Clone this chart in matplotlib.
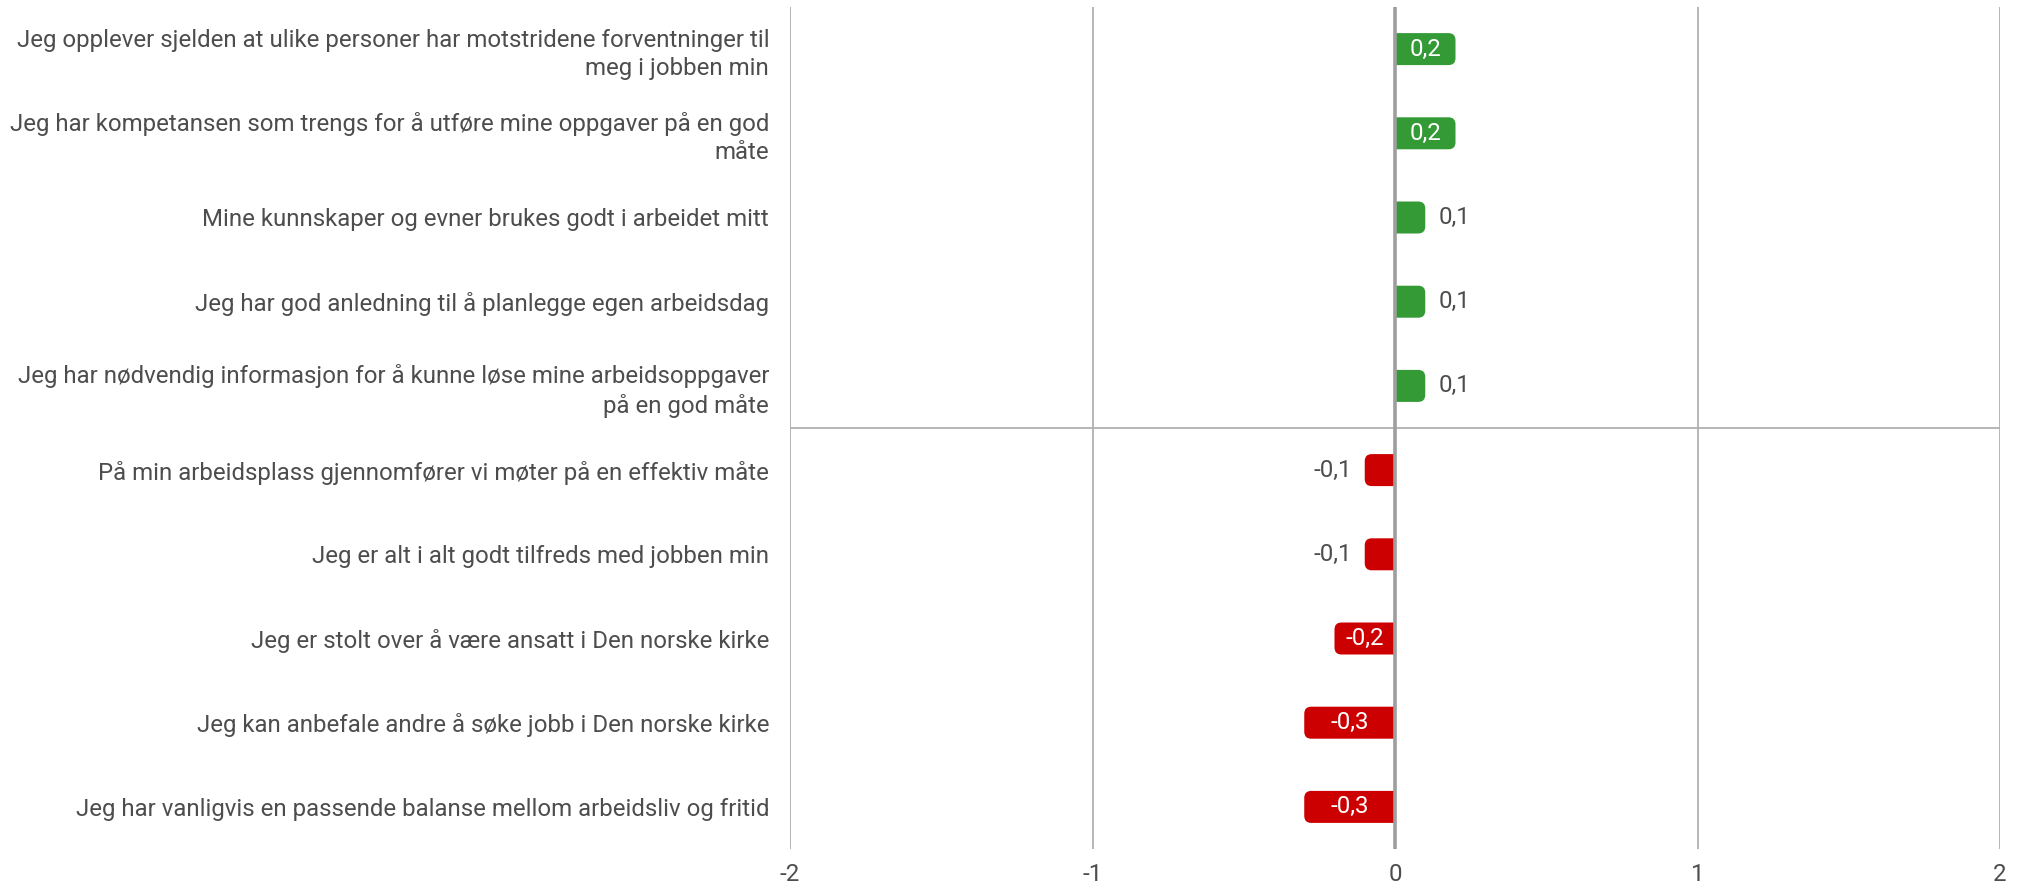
import matplotlib
matplotlib.use("Agg")
import matplotlib.pyplot as plt
from matplotlib.path import Path
from matplotlib.patches import PathPatch

plt.rcParams['font.family'] = ['Roboto', 'DejaVu Sans']

categories = [
    "Jeg opplever sjelden at ulike personer har motstridene forventninger til\nmeg i jobben min",
    "Jeg har kompetansen som trengs for å utføre mine oppgaver på en god\nmåte",
    "Mine kunnskaper og evner brukes godt i arbeidet mitt",
    "Jeg har god anledning til å planlegge egen arbeidsdag",
    "Jeg har nødvendig informasjon for å kunne løse mine arbeidsoppgaver\npå en god måte",
    "På min arbeidsplass gjennomfører vi møter på en effektiv måte",
    "Jeg er alt i alt godt tilfreds med jobben min",
    "Jeg er stolt over å være ansatt i Den norske kirke",
    "Jeg kan anbefale andre å søke jobb i Den norske kirke",
    "Jeg har vanligvis en passende balanse mellom arbeidsliv og fritid",
]
values = [0.2, 0.2, 0.1, 0.1, 0.1, -0.1, -0.1, -0.2, -0.3, -0.3]
value_labels = ["0,2", "0,2", "0,1", "0,1", "0,1", "-0,1", "-0,1", "-0,2", "-0,3", "-0,3"]
xticks = [-2, -1, 0, 1, 2]
xtick_labels = ["-2", "-1", "0", "1", "2"]

GREEN = "#339a35"
RED = "#cc0000"
TEXT = "#4d4d4d"
FS = 17.25

W, H = 2020, 886
fig = plt.figure(figsize=(W / 100, H / 100), dpi=100)
ax_l, ax_r, ax_t, ax_b = 790, 2000, 7, 849
ax = fig.add_axes([ax_l / W, 1 - ax_b / H, (ax_r - ax_l) / W, (ax_b - ax_t) / H])

n = len(categories)
ax.set_xlim(-2, 2)
ax.set_ylim(n - 0.5, -0.5)

# pixel to data conversions
xpp = 4.0 / (ax_r - ax_l)
ypp = n / (ax_b - ax_t)
radius_px = 7
rx = radius_px * xpp
ry = radius_px * ypp
bar_h = 0.38

# grid lines
for t in xticks:
    if t == 0:
        continue
    ax.axvline(t, color="#b0b0b0", lw=1.3, zorder=1)
ax.axhline(4.5, color="#b0b0b0", lw=1.3, zorder=1)

for i, v in enumerate(values):
    y0, y1 = i - bar_h / 2, i + bar_h / 2
    s = 1 if v > 0 else -1
    xe = v
    r = min(rx, abs(v))
    verts = [
        (0, y0),
        (xe - s * r, y0),
        (xe, y0), (xe, y0 + ry),
        (xe, y1 - ry),
        (xe, y1), (xe - s * r, y1),
        (0, y1),
        (0, y0),
    ]
    codes = [Path.MOVETO, Path.LINETO, Path.CURVE3, Path.CURVE3, Path.LINETO,
             Path.CURVE3, Path.CURVE3, Path.LINETO, Path.CLOSEPOLY]
    ax.add_patch(PathPatch(Path(verts, codes), facecolor=GREEN if v > 0 else RED,
                           edgecolor="none", zorder=2))
    if abs(v) >= 0.15:
        ax.text(v / 2, i, value_labels[i], ha="center", va="center",
                color="white", fontsize=FS, zorder=3)
    else:
        off = 13 * xpp
        ax.text(v + s * off, i, value_labels[i], ha="left" if v > 0 else "right",
                va="center", color=TEXT, fontsize=FS, zorder=3)

ax.axvline(0, color="#9e9e9e", lw=2.6, zorder=4)

ax.set_yticks(range(n))
ax.set_yticklabels(categories, fontsize=FS, color=TEXT, ha="right",
                   linespacing=1.28)
ax.set_xticks(xticks)
ax.set_xticklabels(xtick_labels, fontsize=FS, color=TEXT)
ax.tick_params(axis="both", length=0)
ax.tick_params(axis="y", pad=15)
ax.tick_params(axis="x", pad=10)
for sp in ax.spines.values():
    sp.set_visible(False)

fig.savefig("out.png", dpi=100, facecolor="white")
